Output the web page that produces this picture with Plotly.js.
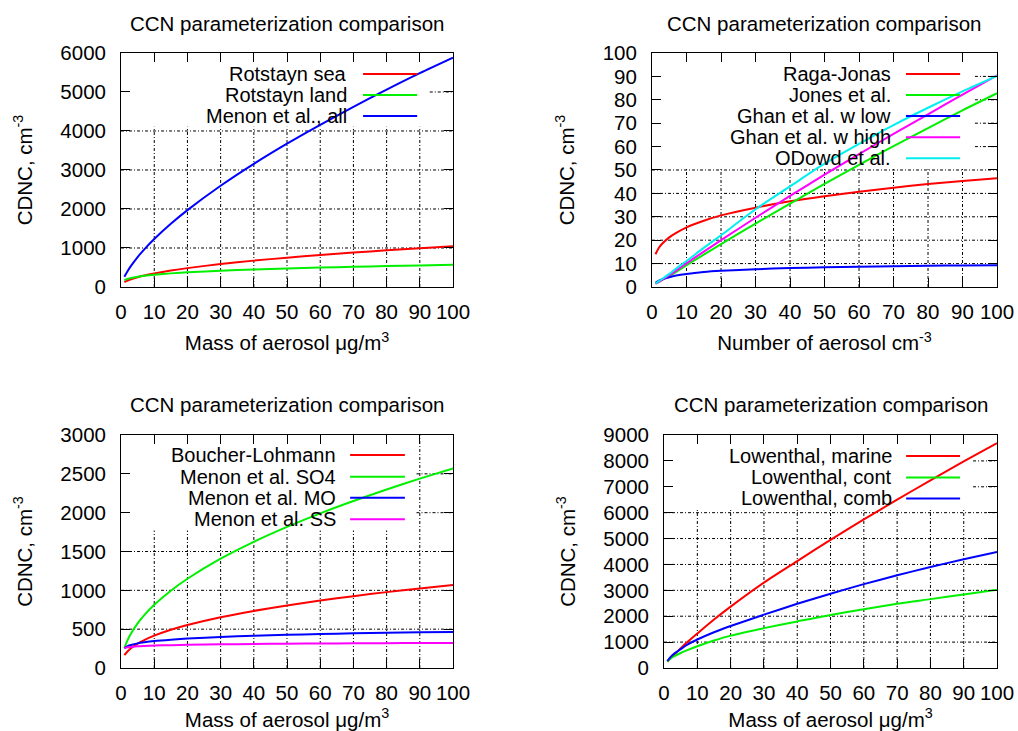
<!DOCTYPE html>
<html>
<head>
<meta charset="utf-8">
<script src="https://cdn.plot.ly/plotly-3.0.1.min.js"></script>
<style>html,body{margin:0;padding:0;background:#fff}#chart{width:1018px;height:731px}</style>
</head>
<body>
<div id="chart"></div>
<script>
// ---------- data ----------
const xMass = [1, 2, 3, 5, 7, 10, 15, 20, 30, 40, 50, 60, 70, 80, 90, 100];
const xNum  = [1, 2, 3, 5, 7, 10, 15, 20, 30, 40, 50, 60, 70, 80, 90, 100];

// panel 1: CDNC vs mass of aerosol
const rotstaynSea  = [128, 165, 198, 252, 295, 347, 421, 484, 589, 676, 751, 819, 882, 940, 995, 1045];
const rotstaynLand = [180, 208, 231, 263, 287, 314, 349, 376, 417, 449, 476, 498, 518, 536, 553, 568];
const menonAll     = [265, 412, 542, 768, 965, 1230, 1620, 1971, 2596, 3158, 3675, 4158, 4619, 5060, 5482, 5880];

// panel 2: CDNC vs number of aerosol
const ragaJonas  = [14.0, 16.8, 18.6, 21.2, 23.1, 25.5, 28.3, 30.6, 33.9, 36.6, 38.8, 40.7, 42.4, 44.0, 45.3, 46.5];
const jones      = [1.4, 2.2, 3.0, 4.7, 6.5, 9.3, 13.8, 18.3, 27.1, 35.6, 44.1, 52.2, 60.2, 67.9, 75.5, 82.8];
const ghanLow    = [1.8, 2.7, 3.3, 4.2, 4.9, 5.6, 6.4, 6.9, 7.6, 8.1, 8.4, 8.7, 8.9, 9.1, 9.2, 9.3];
const ghanHigh   = [1.4, 2.2, 3.1, 5.0, 7.0, 10.1, 15.1, 20.0, 29.6, 38.9, 48.0, 56.8, 65.4, 73.8, 82.2, 90.4];
const odowd      = [1.5, 2.5, 3.5, 5.6, 7.9, 11.1, 16.7, 22.1, 33.2, 43.0, 52.7, 61.2, 69.2, 76.6, 83.6, 90.2];

// panel 3: CDNC vs mass of aerosol
const boucherLohmann = [165, 215, 254, 313, 360, 416, 492, 553, 653, 735, 806, 868, 925, 977, 1025, 1070];
const menonSO4       = [257, 363, 445, 575, 680, 813, 995, 1149, 1408, 1625, 1817, 1991, 2150, 2299, 2438, 2570];
const menonMO        = [257, 281, 296, 317, 331, 347, 365, 379, 400, 415, 427, 438, 446, 454, 461, 465];
const menonSS        = [257, 266, 271, 279, 283, 288, 294, 299, 305, 309, 313, 315, 318, 320, 322, 323];

// panel 4: CDNC vs mass of aerosol
const lowMarine = [240, 380, 510, 760, 1000, 1330, 1870, 2370, 3300, 4130, 4950, 5740, 6500, 7250, 7980, 8690];
const lowCont   = [250, 370, 450, 580, 690, 840, 1060, 1250, 1540, 1800, 2050, 2270, 2480, 2660, 2840, 3020];
const lowComb   = [270, 430, 550, 730, 900, 1100, 1380, 1620, 2060, 2480, 2870, 3240, 3580, 3900, 4200, 4480];

// tick values
const xTicks = [0, 10, 20, 30, 40, 50, 60, 70, 80, 90, 100];
const y1Ticks = [0, 1000, 2000, 3000, 4000, 5000, 6000];
const y2Ticks = [0, 10, 20, 30, 40, 50, 60, 70, 80, 90, 100];
const y3Ticks = [0, 500, 1000, 1500, 2000, 2500, 3000];
const y4Ticks = [0, 1000, 2000, 3000, 4000, 5000, 6000, 7000, 8000, 9000];

const titleText = 'CCN parameterization comparison';
const massLabel = 'Mass of aerosol μg/m<sup>3</sup>';
const numLabel = 'Number of aerosol cm<sup>-3</sup>';
const yLabel = 'CDNC, cm<sup>-3</sup>';

// ---------- styling ----------
const RED = '#ff0000', GREEN = '#00f000', BLUE = '#0000ff', MAG = '#ff00ff', CYAN = '#00f0f0';
const FONT = 'Liberation Sans, Arial, Helvetica, sans-serif';
const FS = 20.5;
const KEY_FS = 20;
const GRID_DASH = '3px,2px,1px,2px';

const panels = [
  {xs: 'x', ys: 'y', xa: 'xaxis', ya: 'yaxis', xdom: [0.1189, 0.4450], ydom: [0.6074, 0.9275],
   x: xMass, yTicks: y1Ticks, xlab: massLabel,
   series: [['Rotstayn sea', rotstaynSea, RED], ['Rotstayn land', rotstaynLand, GREEN], ['Menon et al., all', menonAll, BLUE]],
   legTextX: 0.684, legLine: [0.729, 0.892], legY: [0.910, 0.821, 0.731],
   box: [0.93, 0.685], titleX: 0.282, titleY: 0.9685},
  {xs: 'x2', ys: 'y2', xa: 'xaxis2', ya: 'yaxis2', xdom: [0.6405, 0.9794], ydom: [0.6074, 0.9275],
   x: xNum, yTicks: y2Ticks, xlab: numLabel,
   series: [['Raga-Jonas', ragaJonas, RED], ['Jones et al.', jones, GREEN], ['Ghan et al. w low', ghanLow, BLUE],
            ['Ghan et al. w high', ghanHigh, MAG], ['ODowd et al.', odowd, CYAN]],
   legTextX: 0.695, legLine: [0.736, 0.893], legY: [0.910, 0.821, 0.731, 0.640, 0.550],
   box: [0.936, 0.505], titleX: 0.8094, titleY: 0.9685},
  {xs: 'x3', ys: 'y3', xa: 'xaxis3', ya: 'yaxis3', xdom: [0.1189, 0.4450], ydom: [0.0862, 0.4049],
   x: xMass, yTicks: y3Ticks, xlab: massLabel,
   series: [['Boucher-Lohmann', boucherLohmann, RED], ['Menon et al. SO4', menonSO4, GREEN],
            ['Menon et al. MO', menonMO, BLUE], ['Menon et al. SS', menonSS, MAG]],
   legTextX: 0.650, legLine: [0.690, 0.855], legY: [0.914, 0.821, 0.731, 0.638],
   box: [0.89, 0.59], titleX: 0.2824, titleY: 0.446},
  {xs: 'x4', ys: 'y4', xa: 'xaxis4', ya: 'yaxis4', xdom: [0.6523, 0.9794], ydom: [0.0862, 0.4049],
   x: xMass, yTicks: y4Ticks, xlab: massLabel,
   series: [['Lowenthal, marine', lowMarine, RED], ['Lowenthal, cont', lowCont, GREEN], ['Lowenthal, comb', lowComb, BLUE]],
   legTextX: 0.687, legLine: [0.727, 0.889], legY: [0.910, 0.818, 0.728],
   box: [0.928, 0.687], titleX: 0.816, titleY: 0.446}
];

const axisCommon = {
  showgrid: false,
  ticks: 'inside', ticklen: 9, tickwidth: 1, tickcolor: '#000',
  showline: true, linecolor: '#000', linewidth: 1, mirror: 'ticks',
  zeroline: false, tickfont: {family: FONT, size: FS, color: '#000'},
  fixedrange: true
};

const data = [];
const layout = {
  width: 1018, height: 731, margin: {l: 0, r: 0, t: 0, b: 0},
  paper_bgcolor: '#fff', plot_bgcolor: '#fff', showlegend: false,
  font: {family: FONT, size: FS, color: '#000'},
  annotations: [], shapes: []
};

panels.forEach(p => {
  const xr = p.xs;
  const yr = p.ys;
  p.series.forEach(s => {
    data.push({type: 'scatter', mode: 'lines', name: s[0], x: p.x, y: s[1],
      xaxis: p.xs, yaxis: p.ys, line: {color: s[2], width: 2, shape: 'spline', smoothing: 0.8},
      hoverinfo: 'skip'});
  });
  const yMax = p.yTicks[p.yTicks.length - 1];
  layout[p.xa] = Object.assign({}, axisCommon, {
    domain: p.xdom, range: [0, 100], tickvals: xTicks, anchor: p.ys,
    ticklabelstandoff: 6,
    title: {text: p.xlab, font: {family: FONT, size: FS, color: '#000'}, standoff: 14}
  });
  layout[p.ya] = Object.assign({}, axisCommon, {
    domain: p.ydom, range: [0, yMax], tickvals: p.yTicks, anchor: p.xs,
    ticklabelstandoff: 10,
    title: {text: yLabel, font: {family: FONT, size: FS, color: '#000'}, standoff: 22}
  });
  // grid lines (gnuplot style), interrupted by the opaque key area
  const boxRightX = p.box[0] * 100;
  xTicks.slice(1, -1).forEach(v => {
    const top = (v > boxRightX) ? 1 : p.box[1];
    layout.shapes.push({type: 'line', xref: xr, yref: yr + ' domain', x0: v, x1: v, y0: 0, y1: top,
      line: {color: '#000', width: 1, dash: GRID_DASH}, layer: 'below'});
  });
  p.yTicks.slice(1, -1).forEach(v => {
    const frac = v / yMax;
    const left = (frac < p.box[1]) ? 0 : p.box[0];
    layout.shapes.push({type: 'line', xref: xr + ' domain', yref: yr, x0: left, x1: 1, y0: v, y1: v,
      line: {color: '#000', width: 1, dash: GRID_DASH}, layer: 'below'});
  });
  // panel title
  layout.annotations.push({text: titleText, xref: 'paper', yref: 'paper', x: p.titleX, y: p.titleY,
    xanchor: 'center', yanchor: 'middle', showarrow: false, font: {family: FONT, size: FS, color: '#000'}});
  // key entries
  p.series.forEach((s, i) => {
    layout.annotations.push({text: s[0], xref: xr + ' domain', yref: yr + ' domain', x: p.legTextX, y: p.legY[i],
      xanchor: 'right', yanchor: 'middle', showarrow: false, borderpad: 0,
      font: {family: FONT, size: KEY_FS, color: '#000'}});
    layout.shapes.push({type: 'line', xref: xr + ' domain', yref: yr + ' domain', x0: p.legLine[0], x1: p.legLine[1],
      y0: p.legY[i], y1: p.legY[i], line: {color: s[2], width: 2}, layer: 'above'});
  });
});

Plotly.newPlot('chart', data, layout, {staticPlot: true, displayModeBar: false});
</script>
</body>
</html>
